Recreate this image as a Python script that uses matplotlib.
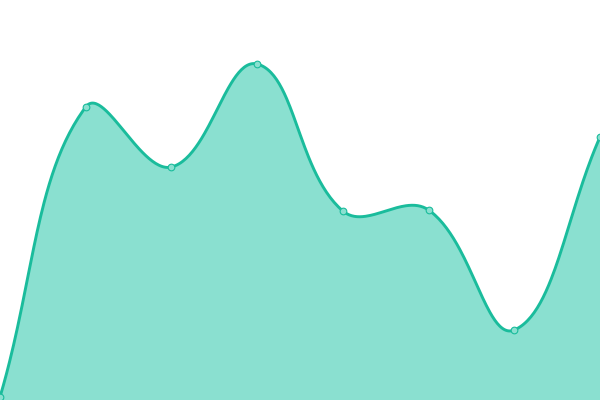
import matplotlib
matplotlib.use("Agg")
import matplotlib.pyplot as plt
import numpy as np

# values (canvas height = 400)
xs = [0, 1, 2, 3, 4, 5, 6, 7]
ys = [3, 293, 233, 336, 189, 190, 70, 263]

line_color = "#1abc9c"
fill_color = "#8ae0d0"
tension = 0.4


def spline(ax, x, y, tension, n=60):
    # control points worked out in pixel space, the way canvas chart libs do it
    pts = ax.transData.transform(np.column_stack([x, y]))
    count = len(pts)
    cp_prev = np.zeros_like(pts)
    cp_next = np.zeros_like(pts)
    for i in range(count):
        prev = pts[max(i - 1, 0)]
        cur = pts[i]
        nxt = pts[min(i + 1, count - 1)]
        d01 = np.hypot(*(cur - prev))
        d12 = np.hypot(*(nxt - cur))
        s01 = d01 / (d01 + d12) if d01 + d12 else 0
        s12 = d12 / (d01 + d12) if d01 + d12 else 0
        cp_prev[i] = cur - tension * s01 * (nxt - prev)
        cp_next[i] = cur + tension * s12 * (nxt - prev)
    t = np.linspace(0, 1, n)[:, None]
    out = []
    for i in range(count - 1):
        p0, p1, p2, p3 = pts[i], cp_next[i], cp_prev[i + 1], pts[i + 1]
        seg = (1 - t) ** 3 * p0 + 3 * (1 - t) ** 2 * t * p1 + 3 * (1 - t) * t ** 2 * p2 + t ** 3 * p3
        out.append(seg)
    out = np.vstack(out)
    data = ax.transData.inverted().transform(out)
    return data[:, 0], data[:, 1]


fig = plt.figure(figsize=(6, 4), dpi=100)
ax = fig.add_axes([0, 0, 1, 1])
ax.set_xlim(0, 7)
ax.set_ylim(0, 400)
ax.axis("off")

sx, sy = spline(ax, xs, ys, tension)
ax.fill_between(sx, sy, 0, color=fill_color, linewidth=0)
ax.plot(sx, sy, color=line_color, linewidth=2.1, solid_capstyle="round")
ax.plot(xs, ys, "o", markersize=4.8, markerfacecolor=fill_color,
        markeredgecolor=line_color, markeredgewidth=0.8)
fig.savefig("out.png", dpi=100)
